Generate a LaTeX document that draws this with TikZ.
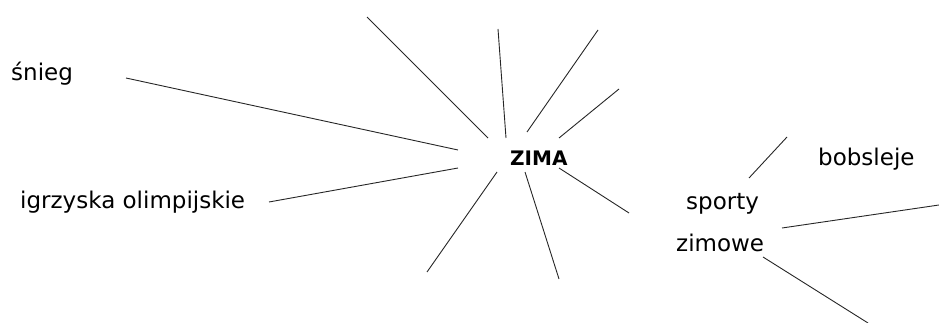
\documentclass[tikz,border=0pt]{standalone}
\usepackage{fontspec}
\setmainfont{DejaVu Sans}
\usetikzlibrary{positioning}

\tikzset{
  word/.style={anchor=base west, inner sep=0pt, font=\fontsize{23}{27}\selectfont},
  hubword/.style={anchor=base west, inner sep=0pt, font=\fontsize{20}{24}\selectfont\bfseries},
  spoke/.style={line width=0.9pt, black!85}
}

\begin{document}
\begin{tikzpicture}[x=1pt, y=-1pt]
  \useasboundingbox (0,0) rectangle (939,323);

  %% ---- words ----
  \node[hubword] (zima) at (510,166) {ZIMA};
  \node[word] (snieg) at (11,81) {śnieg};
  \node[word] (igrzyska) at (20,208) {igrzyska olimpijskie};
  \node[word] (sporty) at (686,209) {sporty};
  \node[word] (zimowe) at (676,251) {zimowe};
  \node[word] (bobsleje) at (818,166) {bobsleje};

  %% ---- spoke ends round ZIMA ----
  \coordinate (s1a) at (367,17);  \coordinate (s1b) at (488,138);
  \coordinate (s2a) at (498,29);  \coordinate (s2b) at (506,138);
  \coordinate (s3a) at (598,30);  \coordinate (s3b) at (527,132);
  \coordinate (s4a) at (619,89);  \coordinate (s4b) at (559,138);
  \coordinate (s5a) at (629,213); \coordinate (s5b) at (559,168);
  \coordinate (s6a) at (559,279); \coordinate (s6b) at (525,172);
  \coordinate (s7a) at (427,272); \coordinate (s7b) at (497,172);
  \coordinate (sn1) at (126,78);  \coordinate (sn2) at (458,150);
  \coordinate (ig1) at (269,202); \coordinate (ig2) at (458,168);

  %% ---- spoke ends round sporty zimowe ----
  \coordinate (bo1) at (749,178); \coordinate (bo2) at (787,137);
  \coordinate (r1)  at (782,228); \coordinate (r2)  at (939,205);
  \coordinate (d1)  at (763,257); \coordinate (d2)  at (868,323);

  %% ---- spokes ----
  \foreach \a/\b in {s1a/s1b, s2a/s2b, s3a/s3b, s4a/s4b, s5a/s5b, s6a/s6b, s7a/s7b,
                     sn1/sn2, ig1/ig2, bo1/bo2, r1/r2, d1/d2}
    \draw[spoke] (\a) -- (\b);

\end{tikzpicture}
\end{document}
